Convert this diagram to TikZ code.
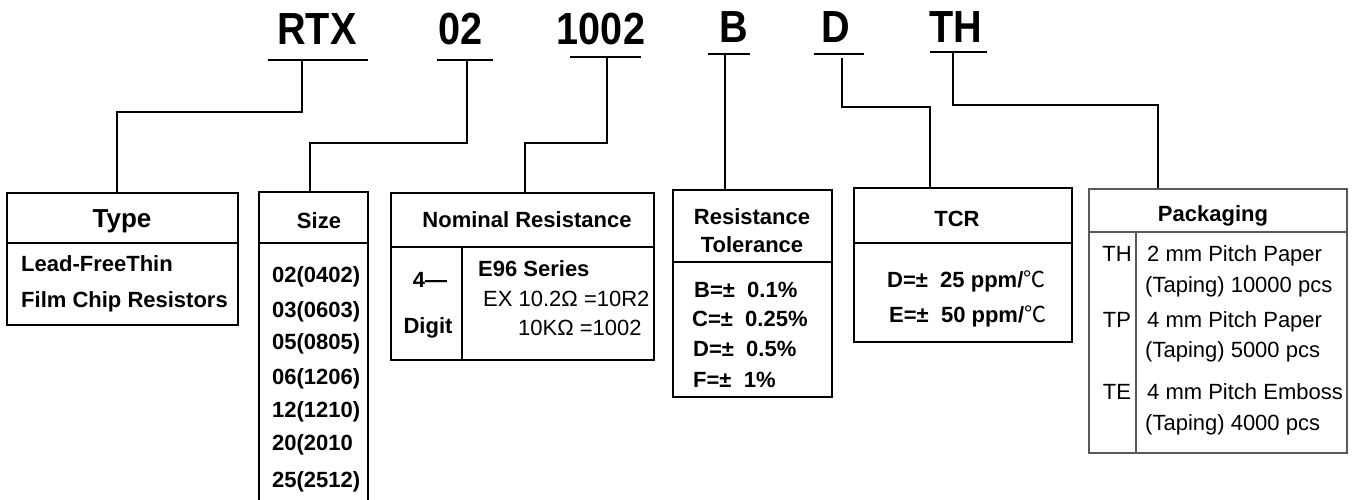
\documentclass[tikz,border=0pt]{standalone}
\usepackage{fontspec}
\setmainfont{Liberation Sans}
\newfontfamily\codefont[FakeStretch=0.88]{Liberation Sans}
\newfontfamily\cjkfont{Noto Sans CJK SC}
\newcommand{\degC}{{\cjkfont\mdseries ℃}}
\begin{document}
\begin{tikzpicture}[x=1pt,y=-1pt]
\tikzset{
  lw/.style={line width=2.6pt},
  conn/.style={lw},
  box/.style={draw, lw, rectangle, inner sep=0pt},
  pbox/.style={draw=black!65, line width=1.6pt, rectangle, inner sep=0pt},
  code/.style={anchor=base, inner sep=0pt, font=\codefont\fontsize{45}{45}\selectfont\bfseries},
  hdr/.style={anchor=base, inner sep=0pt, font=\fontsize{22}{22}\selectfont\bfseries},
  txt/.style={anchor=base west, inner sep=0pt, font=\fontsize{22}{22}\selectfont\bfseries},
  rtxt/.style={anchor=base west, inner sep=0pt, font=\fontsize{22}{22}\selectfont},
  rlab/.style={anchor=base, inner sep=0pt, font=\fontsize{22}{22}\selectfont},
}
\useasboundingbox (0,0) rectangle (1355,500);

% code letters
\node[code] (rtx) at (317,45) {RTX};
\node[code] (c02) at (461,45) {02};
\node[code] (c1002) at (601,45) {1002};
\node[code] (cB) at (734,43) {B};
\node[code] (cD) at (836,43) {D};
\node[code] (cTH) at (956,43) {TH};
% underlines
\draw[lw] (268,60) -- (368,60);
\draw[lw] (437,60) -- (493,60);
\draw[lw] (570,57) -- (641,57);
\draw[lw] (708,54) -- (750,54);
\draw[lw] (814,54) -- (864,54);
\draw[lw] (930,52) -- (987,52);

% boxes
\node[box, minimum width=231, minimum height=132] (typeB) at (122.5,259) {};
\node[box, minimum width=109, minimum height=338] (sizeB) at (313.5,361) {};
\node[box, minimum width=263, minimum height=167] (nomB) at (522.5,276.5) {};
\node[box, minimum width=159, minimum height=207] (tolB) at (752.5,293.5) {};
\node[box, minimum width=218, minimum height=154] (tcrB) at (963,265) {};
\node[pbox, minimum width=258, minimum height=264] (pkgB) at (1218,321) {};

% dividers
\draw[lw] (typeB.west |- 0,243) -- (typeB.east |- 0,243);
\draw[lw] (sizeB.west |- 0,243) -- (sizeB.east |- 0,243);
\draw[lw] (nomB.west |- 0,247) -- (nomB.east |- 0,247);
\draw[lw] (462,247) -- (nomB.south -| 462,0);
\draw[lw] (tolB.west |- 0,262) -- (tolB.east |- 0,262);
\draw[lw] (tcrB.west |- 0,243) -- (tcrB.east |- 0,243);
\draw[draw=black!65, line width=1.6pt] (pkgB.west |- 0,232) -- (pkgB.east |- 0,232);
\draw[draw=black!65, line width=1.6pt] (1136,232) -- (pkgB.south -| 1136,0);

% connectors
\coordinate (uRTX) at (302,60);  \coordinate (kRTX) at (117,112);
\coordinate (u02) at (467,60);   \coordinate (k02) at (310,143);
\coordinate (u1002) at (607,57); \coordinate (k1002) at (525,143);
\coordinate (uB) at (725,54);
\coordinate (uD) at (842,58);    \coordinate (kD) at (930,107);
\coordinate (uTH) at (953,52);   \coordinate (kTH) at (1158,105);
\draw[conn] (uRTX) |- (kRTX) -- (kRTX |- typeB.north);
\draw[conn] (u02) |- (k02) -- (k02 |- sizeB.north);
\draw[conn] (u1002) |- (k1002) -- (k1002 |- nomB.north);
\draw[conn] (uB) -- (uB |- tolB.north);
\draw[conn] (uD) |- (kD) -- (kD |- tcrB.north);
\draw[conn] (uTH) |- (kTH) -- (kTH |- pkgB.north);

% Type
\node[hdr, font=\fontsize{26}{26}\selectfont\bfseries] (typeH) at (122,227) {Type};
\node[txt] (type1) at (21,271) {Lead-FreeThin};
\node[txt] (type2) at (21,307) {Film Chip Resistors};

% Size
\node[hdr] (sizeH) at (319,228) {Size};
\node[txt] (s1) at (272,282) {02(0402)};
\node[txt] (s2) at (272,317) {03(0603)};
\node[txt] (s3) at (272,349) {05(0805)};
\node[txt] (s4) at (272,384) {06(1206)};
\node[txt] (s5) at (272,417) {12(1210)};
\node[txt] (s6) at (272,450) {20(2010};
\node[txt] (s7) at (272,487) {25(2512)};

% Nominal resistance
\node[hdr] (nomH) at (527,227) {Nominal Resistance};
\node[hdr] (n4) at (430,287) {4—};
\node[hdr] (nDigit) at (428,333) {Digit};
\node[txt] (nE96) at (478,276) {E96 Series};
\node[rtxt] (nEx1) at (483,306) {EX 10.2Ω =10R2};
\node[rtxt] (nEx2) at (518,335) {10KΩ =1002};

% Tolerance
\node[hdr] (tolH1) at (752,224) {Resistance};
\node[hdr] (tolH2) at (752,252) {Tolerance};
\node[txt] (t1) at (694,297) {B=±\ \ 0.1\%};
\node[txt] (t2) at (692,326) {C=±\ \ 0.25\%};
\node[txt] (t3) at (693,356) {D=±\ \ 0.5\%};
\node[txt] (t4) at (693,387) {F=±\ \ 1\%};

% TCR
\node[hdr] (tcrH) at (957,226) {TCR};
\node[txt] (tc1) at (887,287) {D=±\ \ 25 ppm/\degC};
\node[txt] (tc2) at (889,322) {E=±\ \ 50 ppm/\degC};

% Packaging
\node[hdr] (pkgH) at (1213,221) {Packaging};
\node[rlab] (pTH) at (1117,261) {TH};
\node[rlab] (pTP) at (1117,327) {TP};
\node[rlab] (pTE) at (1117,399) {TE};
\node[rtxt] (p1) at (1147,261) {2 mm Pitch Paper};
\node[rtxt] (p2) at (1145,292) {(Taping) 10000 pcs};
\node[rtxt] (p3) at (1147,327) {4 mm Pitch Paper};
\node[rtxt] (p4) at (1145,357) {(Taping) 5000 pcs};
\node[rtxt] (p5) at (1147,399) {4 mm Pitch Emboss};
\node[rtxt] (p6) at (1145,430) {(Taping) 4000 pcs};
\end{tikzpicture}
\end{document}
